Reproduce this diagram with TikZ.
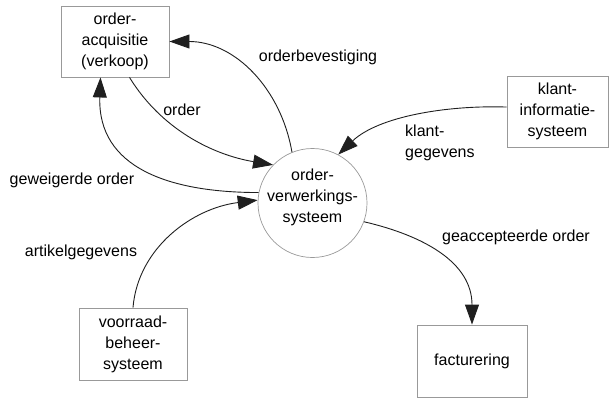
\documentclass[tikz,border=0pt]{standalone}
\usepackage{fontspec}
\setmainfont{Liberation Sans}
\usetikzlibrary{arrows.meta}
\definecolor{boxgray}{gray}{0.6}
\definecolor{flowink}{gray}{0.12}
\begin{document}
\begin{tikzpicture}[x=1pt,y=-1pt,
  every node/.style={font=\fontsize{16}{21}\selectfont, inner sep=0pt, align=center},
  proc/.style={draw=boxgray, line width=0.9pt, rectangle},
  store/.style={draw=boxgray, line width=0.7pt, circle, minimum size=109pt},
  flow/.style={draw=flowink, line width=0.9pt, -{Triangle[length=20pt,width=14pt]}},
  lbl/.style={}]
  \useasboundingbox (0,0) rectangle (609,398);

  % external entities and the central process
  \node[proc, minimum width=108pt, minimum height=71pt] (acq) at (115,41.5) {order-\\acquisitie\\(verkoop)};
  \node[proc, minimum width=101pt, minimum height=71pt] (klant) at (557.5,111.5) {klant-\\informatie-\\systeem};
  \node[proc, minimum width=108pt, minimum height=72pt] (voor) at (133,344) {voorraad-\\beheer-\\systeem};
  \node[proc, minimum width=110pt, minimum height=72pt] (fact) at (472,361) {facturering};
  \node[store] (circ) at (312.5,203) {};
  \node (circtxt) at (312.5,197) {order-\\verwerkings-\\systeem};

  % data flows
  \draw[flow] (circ.112) .. controls +(-11,-64) and +(65,0) .. (acq.east);
  \draw[flow] (acq.-68) .. controls +(32,52) and +(-60,-10) .. (circ.136);
  \draw[flow] (circ.169) .. controls +(-90,0) and +(-3,90) .. (acq.-112);
  \draw[flow] (voor.north) .. controls +(5,-60) and +(-65,8) .. (circ.177);
  \draw[flow] (klant.175) .. controls +(-60,-2) and +(40,-38) .. (circ.62);
  \draw[flow] (circ.-20) .. controls +(60,14) and +(0,-62) .. (fact.north);

  % flow labels
  \node[lbl] (lbest) at (318,57) {orderbevestiging};
  \node[lbl] (lorder) at (182,110) {order};
  \node[lbl] (lweig) at (72,180) {geweigerde order};
  \node[lbl, anchor=west, align=left] (lklant) at (405,143) {klant-\\gegevens};
  \node[lbl] (lart) at (81,252) {artikelgegevens};
  \node[lbl] (lacc) at (516,237) {geaccepteerde order};
\end{tikzpicture}
\end{document}
